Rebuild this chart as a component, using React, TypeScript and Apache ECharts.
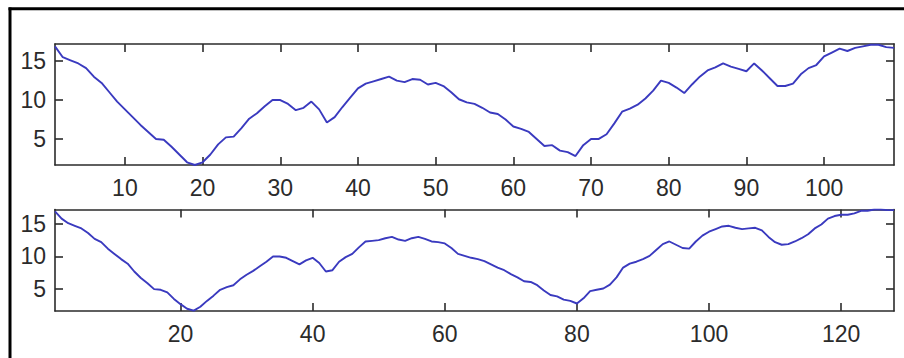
import React, { useEffect, useRef } from "react";
import * as echarts from "echarts";

const topValues = [
  16.9, 15.5, 15.1, 14.7, 14.1, 13.0, 12.2, 11.0, 9.8, 8.8,
  7.8, 6.8, 5.9, 5.0, 4.9, 4.0, 3.0, 2.0, 1.65, 2.0,
  3.0, 4.3, 5.2, 5.3, 6.4, 7.6, 8.3, 9.2, 10.0, 10.0,
  9.5, 8.7, 9.0, 9.8, 8.8, 7.1, 7.8, 9.1, 10.3, 11.5,
  12.1, 12.4, 12.7, 13.0, 12.5, 12.3, 12.7, 12.6, 12.0, 12.2,
  11.8, 11.0, 10.1, 9.7, 9.5, 9.0, 8.4, 8.2, 7.5, 6.6,
  6.3, 5.9, 5.0, 4.1, 4.2, 3.5, 3.3, 2.8, 4.2, 5.0,
  5.0, 5.6, 7.0, 8.5, 8.9, 9.4, 10.2, 11.2, 12.5, 12.2,
  11.6, 10.9, 12.0, 13.0, 13.8, 14.2, 14.7, 14.3, 14.0, 13.7,
  14.7, 13.8, 12.8, 11.8, 11.8, 12.1, 13.3, 14.1, 14.5, 15.6,
  16.1, 16.6, 16.3, 16.7, 16.9, 17.1, 17.1, 16.8, 16.7,
];

const bottomValues = [
  16.9, 15.8, 15.1, 14.7, 14.3, 13.6, 12.7, 12.2, 11.2, 10.4,
  9.6, 8.9, 7.7, 6.7, 5.9, 5.0, 4.9, 4.5, 3.5, 2.7,
  2.0, 1.7, 2.3, 3.2, 4.0, 4.9, 5.3, 5.6, 6.5, 7.2,
  7.8, 8.5, 9.2, 10.0, 10.0, 9.8, 9.3, 8.8, 9.4, 9.8,
  9.0, 7.7, 7.9, 9.2, 9.9, 10.4, 11.4, 12.3, 12.4, 12.5,
  12.8, 13.0, 12.6, 12.4, 12.8, 13.0, 12.7, 12.3, 12.2, 12.0,
  11.3, 10.4, 10.1, 9.8, 9.6, 9.3, 8.8, 8.3, 7.9, 7.3,
  6.8, 6.2, 6.1, 5.6, 4.8, 4.1, 3.9, 3.4, 3.2, 2.8,
  3.6, 4.7, 4.9, 5.1, 5.7, 6.8, 8.3, 8.9, 9.2, 9.6,
  10.1, 11.0, 11.9, 12.3, 11.8, 11.3, 11.2, 12.3, 13.2, 13.8,
  14.2, 14.6, 14.7, 14.4, 14.2, 14.3, 14.4, 14.0, 13.0, 12.2,
  11.8, 11.9, 12.3, 12.8, 13.4, 14.3, 14.9, 15.8, 16.2, 16.4,
  16.4, 16.6, 17.0, 17.0, 17.2, 17.2, 17.1, 17.1,
];

const topXTicks = [10, 20, 30, 40, 50, 60, 70, 80, 90, 100];
const bottomXTicks = [20, 40, 60, 80, 100, 120];
const yTicks = [5, 10, 15];

const Y_MIN = 1.65;
const Y_MAX = 17.2;

export default function App() {
  const ref = useRef<HTMLDivElement>(null);

  useEffect(() => {
    document.body.style.margin = "0";
    const chart = echarts.init(ref.current!, null, { renderer: "svg" });

    const axisLine = { show: true, lineStyle: { color: "#2b2b2b", width: 1.6 } };
    const labelStyle = {
      color: "#2b2b2b",
      fontFamily: "Liberation Sans, Arial, sans-serif",
      fontSize: 23,
    };

    const makeX = (gridIndex: number, max: number, ticks: number[], position: "bottom" | "top", showLabel: boolean) => ({
      type: "value" as const,
      gridIndex,
      min: 1,
      max,
      position,
      axisLine,
      splitLine: { show: false },
      axisTick: { show: true, inside: true, length: 8, customValues: ticks, lineStyle: { color: "#2b2b2b", width: 1.6 } },
      axisLabel: showLabel
        ? { show: true, customValues: ticks, margin: 11, ...labelStyle }
        : { show: false },
    });

    const makeY = (gridIndex: number, position: "left" | "right", showLabel: boolean) => ({
      type: "value" as const,
      gridIndex,
      min: Y_MIN,
      max: Y_MAX,
      position,
      axisLine,
      splitLine: { show: false },
      axisTick: { show: true, inside: true, length: 8, customValues: yTicks, lineStyle: { color: "#2b2b2b", width: 1.6 } },
      axisLabel: showLabel
        ? { show: true, customValues: yTicks, margin: 9, ...labelStyle }
        : { show: false },
    });

    chart.setOption({
      animation: false,
      backgroundColor: "#fff",
      grid: [
        { left: 55, right: 10, top: 44, height: 121 },
        { left: 55, right: 10, top: 209.5, height: 101.5 },
      ],
      xAxis: [
        makeX(0, topValues.length, topXTicks, "bottom", true),
        makeX(0, topValues.length, topXTicks, "top", false),
        makeX(1, bottomValues.length, bottomXTicks, "bottom", true),
        makeX(1, bottomValues.length, bottomXTicks, "top", false),
      ],
      yAxis: [
        makeY(0, "left", true),
        makeY(0, "right", false),
        makeY(1, "left", true),
        makeY(1, "right", false),
      ],
      series: [
        {
          type: "line",
          xAxisIndex: 0,
          yAxisIndex: 0,
          data: topValues.map((v, i) => [i + 1, v]),
          showSymbol: false,
          lineStyle: { color: "#3a3abf", width: 1.9 },
          clip: true,
        },
        {
          type: "line",
          xAxisIndex: 2,
          yAxisIndex: 2,
          data: bottomValues.map((v, i) => [i + 1, v]),
          showSymbol: false,
          lineStyle: { color: "#3a3abf", width: 1.9 },
          clip: true,
        },
      ],
      graphic: [
        { type: "line", shape: { x1: 8.5, y1: 8.7, x2: 904, y2: 8.7 }, style: { stroke: "#000", lineWidth: 3 } },
        { type: "line", shape: { x1: 10, y1: 7.5, x2: 10, y2: 358 }, style: { stroke: "#000", lineWidth: 3 } },
      ],
    });

    return () => chart.dispose();
  }, []);

  return <div ref={ref} style={{ width: 904, height: 358, background: "#fff" }} />;
}
